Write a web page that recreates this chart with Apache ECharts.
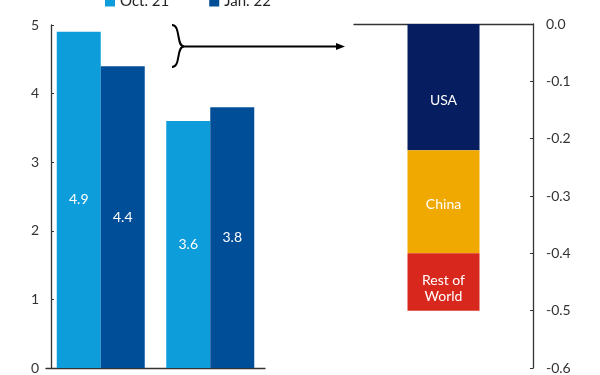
<!DOCTYPE html>
<html>
<head>
<meta charset="utf-8">
<script src="https://cdn.jsdelivr.net/npm/echarts@6/dist/echarts.min.js"></script>
<style>html,body{margin:0;padding:0;background:#fff}#c{width:600px;height:375px}</style>
</head>
<body>
<div id="c"></div>
<script>
const groups = ['A', 'B'];
const seriesNames = ['Oct. 21', 'Jan. 22'];
const oct21 = [4.9, 3.6];
const jan22 = [4.4, 3.8];
const leftTicks = [0, 1, 2, 3, 4, 5];
const contribCategory = ['Revision'];
const contribNames = ['USA', 'China', 'Rest of\nWorld'];
const contribValues = [-0.22, -0.18, -0.10];

const FONT = 'Lato';
const chart = echarts.init(document.getElementById('c'), null, {renderer: 'canvas'});
const axisColor = '#333';
const contribColors = ['#061e5f', '#f0a900', '#d8281e'];
const contribLabelShift = [[0, 13], [0, 3], [0, 6]];

const braceStyle = {fill: null, stroke: '#000', lineWidth: 2};

chart.setOption({
  animation: false,
  textStyle: {fontFamily: FONT},
  legend: {
    top: -11, left: 100,
    itemWidth: 10, itemHeight: 10, itemGap: 40,
    icon: 'rect',
    data: seriesNames,
    textStyle: {fontFamily: FONT, fontSize: 15, color: '#222'}
  },
  grid: [
    {left: 46, top: 25, width: 219, height: 345},
    {left: 354, top: 24, width: 179, height: 346}
  ],
  xAxis: [
    {gridIndex: 0, type: 'category', data: groups,
     axisLine: {lineStyle: {color: axisColor, width: 1.3}},
     axisTick: {show: false}, axisLabel: {show: false}},
    {gridIndex: 1, type: 'category', data: contribCategory,
     axisLine: {onZero: true, lineStyle: {color: axisColor, width: 1.3}},
     axisTick: {show: false}, axisLabel: {show: false}}
  ],
  yAxis: [
    {gridIndex: 0, type: 'value', min: 0, max: 5, interval: 1, offset: -5,
     axisLine: {show: true, lineStyle: {color: axisColor, width: 1.3}},
     axisTick: {show: true, inside: true, length: 3, lineStyle: {color: axisColor}},
     splitLine: {show: false},
     axisLabel: {fontFamily: FONT, fontSize: 14, color: '#333', margin: 12}},
    {gridIndex: 1, type: 'value', position: 'right', min: -0.6, max: 0, interval: 0.1,
     axisLine: {show: true, lineStyle: {color: axisColor, width: 1.3}},
     axisTick: {show: true, inside: true, length: 3, lineStyle: {color: axisColor}},
     splitLine: {show: false},
     axisLabel: {fontFamily: FONT, fontSize: 14, color: '#333', margin: 13,
       formatter: v => v.toFixed(1)}}
  ],
  series: [
    {name: seriesNames[0], type: 'bar', xAxisIndex: 0, yAxisIndex: 0, data: oct21,
     barWidth: 44, barGap: '0%', itemStyle: {color: '#0d9ddb'},
     label: {show: true, position: 'inside', color: '#fff', fontSize: 14, fontFamily: FONT}},
    {name: seriesNames[1], type: 'bar', xAxisIndex: 0, yAxisIndex: 0, data: jan22,
     barWidth: 44, barGap: '0%', itemStyle: {color: '#004e98'},
     label: {show: true, position: 'inside', color: '#fff', fontSize: 14, fontFamily: FONT}},
  ].concat(contribNames.map((n, i) => ({
    name: n, type: 'bar', xAxisIndex: 1, yAxisIndex: 1, stack: 'c',
    data: [contribValues[i]], barWidth: 72,
    itemStyle: {color: contribColors[i]},
    label: {show: true, position: 'inside', formatter: n, color: '#fff', fontSize: 14,
      fontFamily: FONT, lineHeight: 16, offset: contribLabelShift[i]}
  }))),
  graphic: [
    {type: 'bezierCurve', shape: {x1: 172, y1: 25, cpx1: 181, cpy1: 25, cpx2: 176, cpy2: 46.5, x2: 184, y2: 46.5},
     style: braceStyle},
    {type: 'bezierCurve', shape: {x1: 184, y1: 46.5, cpx1: 176, cpy1: 46.5, cpx2: 181, cpy2: 67, x2: 172, y2: 67},
     style: braceStyle},
    {type: 'line', shape: {x1: 184, y1: 46.5, x2: 338, y2: 46.5},
     style: {stroke: '#000', lineWidth: 2}},
    {type: 'polygon', shape: {points: [[336, 43], [345, 46.5], [336, 50]]},
     style: {fill: '#000'}}
  ]
});
</script>
</body>
</html>
